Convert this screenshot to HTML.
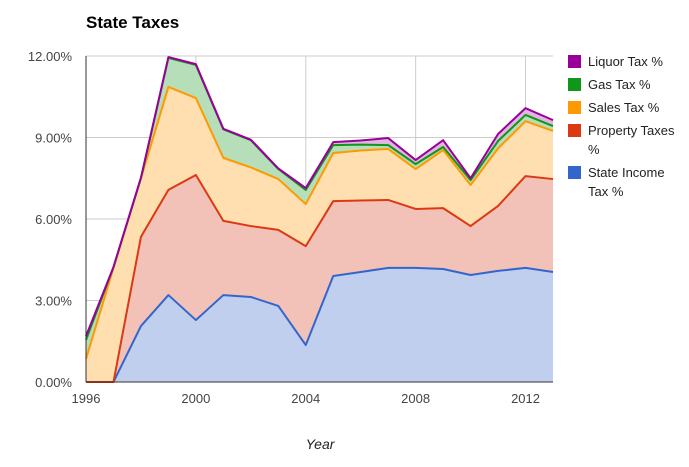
<!DOCTYPE html>
<html><head><meta charset="utf-8"><style>
body{margin:0;background:#fff;font-family:"Liberation Sans",Arial,sans-serif}
</style></head><body>
<svg id="c" width="689" height="462" xmlns="http://www.w3.org/2000/svg">
<text x="86" y="28" font-size="17" font-weight="bold" fill="#000">State Taxes</text>
<text x="320" y="449" font-size="14" font-style="italic" fill="#222" text-anchor="middle">Year</text>
<g id="grid"></g><g id="areas"></g><g id="axes"></g><g id="legend"></g>
</svg>
<script>
const years=[1996,1997,1998,1999,2000,2001,2002,2003,2004,2005,2006,2007,2008,2009,2010,2011,2012,2013];
const seriesNames=["State Income Tax %","Property Taxes %","Sales Tax %","Gas Tax %","Liquor Tax %"];
const income=[0,0,2.06,3.2,2.28,3.2,3.13,2.8,1.36,3.9,4.05,4.2,4.2,4.16,3.94,4.09,4.2,4.05];
const property=[0,0,3.28,3.87,5.34,2.73,2.61,2.8,3.64,2.76,2.63,2.5,2.17,2.24,1.8,2.39,3.38,3.42];
const sales=[0.85,4.2,2.16,3.79,2.83,2.32,2.16,1.87,1.55,1.77,1.84,1.88,1.47,2.14,1.51,2.12,2.02,1.77];
const gas=[0.7,0.03,0,1.07,1.22,1.05,1.0,0.37,0.52,0.29,0.22,0.14,0.18,0.11,0.18,0.27,0.23,0.18];
const liquor=[0.14,0,0.02,0.03,0.03,0.02,0.02,0.02,0.07,0.11,0.15,0.26,0.15,0.25,0.07,0.26,0.25,0.22];
const yTicks=[0,3,6,9,12];
const xTicks=[1996,2000,2004,2008,2012];
const colors=["#3366cc","#dc3912","#ff9900","#109618","#990099"];
const fills=["#c0cfee","#f2c2b8","#ffdfb0","#b5deb9","#e0b5e0"];
const NS="http://www.w3.org/2000/svg";
const X0=86,X1=553,Y0=382,Y1=56;
const xs=y=>X0+(y-1996)/(2013-1996)*(X1-X0);
const ys=v=>Y0-v/12*(Y0-Y1);
function mk(t,a,p){const e=document.createElementNS(NS,t);for(const k in a)e.setAttribute(k,a[k]);p.appendChild(e);return e;}
const grid=document.getElementById('grid'),axes=document.getElementById('axes'),areas=document.getElementById('areas'),leg=document.getElementById('legend');
yTicks.forEach(v=>{
 const l=mk('line',{x1:X0,x2:X1,y1:ys(v),y2:ys(v),stroke:"#ccc","stroke-width":1},grid);
 
 
 const t=mk('text',{x:72,y:ys(v)+5,"font-size":13,fill:"#444","text-anchor":"end"},axes);
 t.textContent=v.toFixed(2)+"%";
 
 
});
xTicks.forEach(v=>{
 if(v>1996){const l=mk('line',{x1:xs(v),x2:xs(v),y1:Y1,y2:Y0,stroke:"#ccc","stroke-width":1},grid);
 
 }
 const t=mk('text',{x:xs(v),y:403,"font-size":13,fill:"#444","text-anchor":"middle"},axes);
 t.textContent=v;
 
 
});
const all=[income,property,sales,gas,liquor];
let base=years.map(()=>0);
const tops=[];
all.forEach((s,i)=>{
 const top=base.map((b,j)=>b+s[j]);
 let d="M"+years.map((y,j)=>xs(y)+","+ys(top[j])).join("L");
 d+="L"+years.slice().reverse().map((y,j)=>xs(y)+","+ys(base[years.length-1-j])).join("L")+"Z";
 const a=mk('path',{d:d,fill:fills[i],stroke:"none"},areas);
 
 
 tops.push(top);base=top;
});
tops.forEach((top,i)=>{
 const l=mk('path',{d:"M"+years.map((y,j)=>xs(y)+","+ys(top[j])).join("L"),fill:"none",stroke:colors[i],"stroke-width":2,"stroke-linejoin":"round"},areas);
 
 
});
const ax=mk('line',{x1:X0,x2:X1,y1:Y0,y2:Y0,stroke:"#333","stroke-width":1},axes);


const ay=mk('line',{x1:X0,x2:X0,y1:Y1,y2:Y0,stroke:"#333","stroke-width":1},axes);


const legItems=[[4,["Liquor Tax %"],61],[3,["Gas Tax %"],84],[2,["Sales Tax %"],107],[1,["Property Taxes","%"],130],[0,["State Income","Tax %"],172]];
legItems.forEach(([ci,lines,y])=>{
 const g=mk('g',{},leg);
 
 
 mk('rect',{x:568,y:y-6,width:13,height:13,fill:colors[ci]},g);
 lines.forEach((s,k)=>{const t=mk('text',{x:588,y:y+5+k*19,"font-size":13,fill:"#222"},g);t.textContent=s;});
});
</script>
</body></html>
